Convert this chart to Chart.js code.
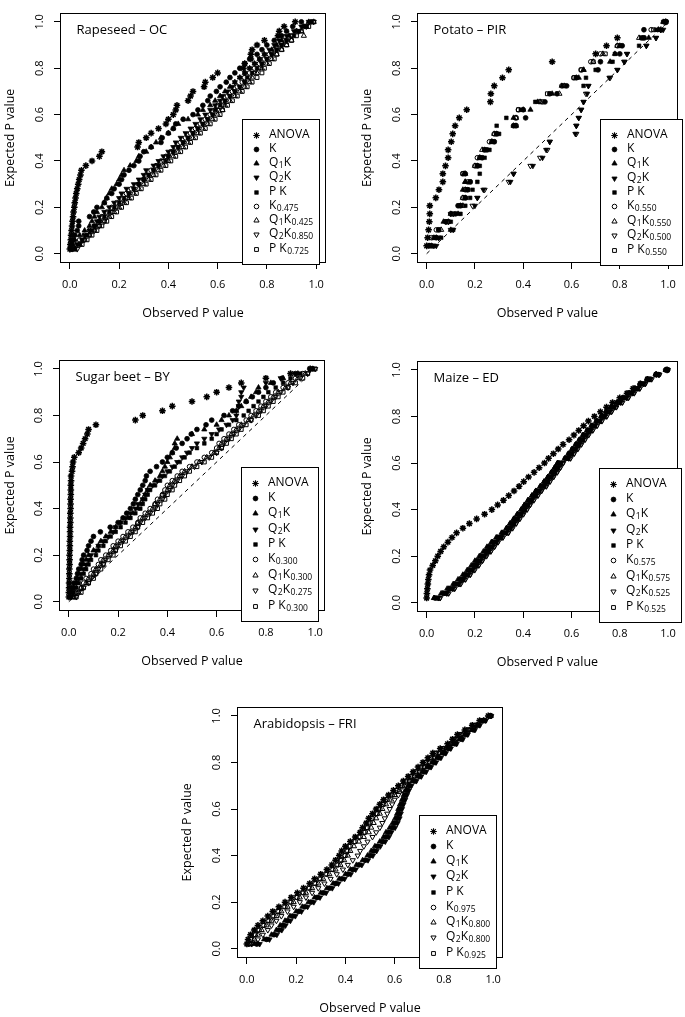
<!DOCTYPE html>
<html>
<head>
<meta charset="utf-8">
<script src="https://cdn.jsdelivr.net/npm/chart.js"></script>
<style>
  body { margin: 0; background: #fff; width: 685px; height: 1017px; overflow: hidden; position: relative; }
  .panel { position: absolute; }
</style>
</head>
<body>
<div class="panel" style="left:0;top:0;width:340px;height:330px"><canvas id="rapeseed"></canvas></div>
<div class="panel" style="left:357px;top:0;width:328px;height:330px"><canvas id="potato"></canvas></div>
<div class="panel" style="left:0;top:347px;width:340px;height:331px"><canvas id="beet"></canvas></div>
<div class="panel" style="left:357px;top:348px;width:328px;height:331px"><canvas id="maize"></canvas></div>
<div class="panel" style="left:177px;top:694px;width:340px;height:323px"><canvas id="arabidopsis"></canvas></div>
<script>
const FONT = '"Open Sans", sans-serif';
const tickValues = [0, 0.2, 0.4, 0.6, 0.8, 1.0];

// expected P values (uniform quantiles)
const expected50 = [0.02,0.04,0.06,0.08,0.10,0.12,0.14,0.16,0.18,0.20,
  0.22,0.24,0.26,0.28,0.30,0.32,0.34,0.36,0.38,0.40,
  0.42,0.44,0.46,0.48,0.50,0.52,0.54,0.56,0.58,0.60,
  0.62,0.64,0.66,0.68,0.70,0.72,0.74,0.76,0.78,0.80,
  0.82,0.84,0.86,0.88,0.90,0.92,0.94,0.96,0.98,1.00];
const expected29 = [0.034,0.069,0.103,0.138,0.172,0.207,0.241,0.276,0.310,0.345,
  0.379,0.414,0.448,0.483,0.517,0.552,0.586,0.621,0.655,0.690,
  0.724,0.759,0.793,0.828,0.862,0.897,0.931,0.966,1.000];

// ---- Rapeseed - OC (observed P values)
const rapeAnova = [0.000,0.002,0.004,0.005,0.007,0.009,0.011,0.013,0.015,0.018,
  0.020,0.023,0.026,0.030,0.034,0.038,0.043,0.047,0.065,0.090,
  0.12,0.13,0.275,0.28,0.31,0.33,0.36,0.39,0.40,0.42,
  0.43,0.435,0.48,0.49,0.50,0.545,0.55,0.58,0.60,0.705,
  0.71,0.735,0.735,0.74,0.76,0.79,0.845,0.85,0.87,0.915];
const rapeK = [0.003,0.008,0.015,0.02,0.03,0.036,0.036,0.08,0.097,0.11,
  0.14,0.15,0.17,0.18,0.20,0.21,0.22,0.24,0.26,0.28,
  0.285,0.30,0.33,0.37,0.375,0.40,0.42,0.43,0.46,0.50,
  0.52,0.54,0.56,0.57,0.595,0.61,0.635,0.65,0.67,0.69,
  0.71,0.73,0.76,0.78,0.80,0.83,0.86,0.88,0.905,0.94];
const rapeQ1K = [0.005,0.012,0.02,0.04,0.06,0.08,0.09,0.10,0.11,0.13,
  0.14,0.15,0.16,0.17,0.19,0.20,0.21,0.22,0.245,0.27,
  0.28,0.31,0.33,0.35,0.37,0.40,0.42,0.44,0.48,0.52,
  0.54,0.57,0.59,0.61,0.63,0.65,0.67,0.69,0.71,0.73,
  0.75,0.77,0.79,0.82,0.84,0.86,0.89,0.92,0.95,0.97];
const rapeQ2K = [0.01,0.03,0.05,0.06,0.08,0.10,0.11,0.12,0.14,0.16,
  0.18,0.20,0.21,0.23,0.26,0.28,0.30,0.31,0.34,0.36,
  0.38,0.40,0.42,0.43,0.45,0.47,0.49,0.51,0.53,0.55,
  0.57,0.59,0.61,0.62,0.64,0.66,0.67,0.69,0.71,0.73,
  0.75,0.77,0.79,0.81,0.83,0.85,0.88,0.91,0.94,0.97];
const rapePK = [0.02,0.04,0.05,0.07,0.09,0.10,0.12,0.14,0.16,0.18,
  0.20,0.22,0.24,0.26,0.28,0.30,0.32,0.34,0.36,0.39,
  0.40,0.42,0.44,0.46,0.48,0.50,0.52,0.54,0.56,0.58,
  0.59,0.61,0.63,0.65,0.67,0.69,0.71,0.72,0.74,0.76,
  0.78,0.80,0.82,0.84,0.86,0.88,0.91,0.93,0.96,0.98];
const rapeKs = [0.01,0.02,0.04,0.06,0.08,0.10,0.12,0.13,0.15,0.17,
  0.19,0.21,0.23,0.25,0.28,0.30,0.31,0.33,0.35,0.37,
  0.39,0.41,0.43,0.45,0.47,0.49,0.51,0.53,0.55,0.57,
  0.59,0.60,0.62,0.64,0.66,0.68,0.70,0.71,0.73,0.75,
  0.77,0.79,0.81,0.83,0.85,0.87,0.90,0.92,0.95,0.98];
const rapeQ1Ks = [0.02,0.04,0.06,0.08,0.10,0.12,0.14,0.16,0.18,0.20,
  0.22,0.24,0.26,0.28,0.30,0.32,0.34,0.36,0.38,0.40,
  0.42,0.44,0.46,0.48,0.50,0.52,0.54,0.56,0.58,0.60,
  0.62,0.63,0.65,0.67,0.69,0.71,0.73,0.74,0.76,0.78,
  0.80,0.82,0.84,0.86,0.88,0.90,0.95,0.94,0.96,0.99];
const rapeQ2Ks = [0.03,0.04,0.06,0.08,0.10,0.12,0.14,0.15,0.17,0.19,
  0.21,0.23,0.24,0.26,0.28,0.30,0.32,0.34,0.36,0.38,
  0.40,0.42,0.44,0.46,0.48,0.50,0.52,0.54,0.56,0.58,
  0.60,0.62,0.63,0.65,0.67,0.69,0.71,0.73,0.75,0.77,
  0.78,0.80,0.82,0.84,0.86,0.88,0.90,0.93,0.96,0.99];
const rapePKs = [0.02,0.05,0.07,0.09,0.11,0.13,0.15,0.17,0.19,0.21,
  0.23,0.25,0.27,0.29,0.31,0.33,0.35,0.37,0.39,0.41,
  0.43,0.45,0.47,0.49,0.51,0.53,0.55,0.57,0.59,0.61,
  0.62,0.64,0.66,0.68,0.70,0.72,0.74,0.76,0.78,0.79,
  0.81,0.83,0.84,0.86,0.88,0.90,0.92,0.94,0.97,0.99];

// ---- Potato - PIR
const potAnova = [0.000,0.004,0.008,0.011,0.013,0.013,0.038,0.051,0.067,0.067,
  0.078,0.089,0.089,0.102,0.108,0.118,0.135,0.166,0.264,0.266,
  0.280,0.314,0.340,0.520,0.700,0.745,0.790,0.970,0.990];
const potK = [0.02,0.04,0.05,0.08,0.12,0.13,0.16,0.17,0.18,0.16,
  0.21,0.23,0.25,0.28,0.29,0.36,0.41,0.40,0.49,0.54,
  0.58,0.62,0.71,0.72,0.80,0.81,0.90,0.90,0.99];
const potQ1K = [0.01,0.03,0.10,0.07,0.13,0.14,0.16,0.15,0.16,0.155,
  0.21,0.22,0.24,0.27,0.29,0.37,0.36,0.43,0.46,0.52,
  0.56,0.63,0.65,0.76,0.78,0.80,0.92,0.96,0.98];
const potQ2K = [0.04,0.05,0.11,0.08,0.10,0.20,0.21,0.235,0.347,0.36,
  0.44,0.48,0.495,0.51,0.616,0.62,0.63,0.64,0.65,0.665,
  0.67,0.757,0.79,0.818,0.83,0.91,0.95,0.98,0.99];
const potPK = [0.03,0.06,0.11,0.10,0.14,0.16,0.18,0.19,0.21,0.22,
  0.22,0.24,0.26,0.28,0.30,0.29,0.33,0.39,0.45,0.51,
  0.65,0.66,0.70,0.77,0.78,0.88,0.89,0.95,0.98];
const potKs = [0.01,0.02,0.04,0.09,0.10,0.14,0.15,0.16,0.17,0.15,
  0.20,0.21,0.24,0.26,0.28,0.37,0.37,0.38,0.48,0.51,
  0.56,0.61,0.64,0.68,0.72,0.79,0.89,0.93,0.99];
const potQ1Ks = [0.02,0.04,0.06,0.09,0.10,0.15,0.15,0.16,0.16,0.16,
  0.20,0.22,0.23,0.27,0.28,0.36,0.37,0.40,0.47,0.55,
  0.57,0.62,0.65,0.69,0.73,0.79,0.88,0.96,0.99];
const potQ2Ks = [0.03,0.05,0.10,0.09,0.11,0.19,0.21,0.24,0.34,0.36,
  0.43,0.47,0.50,0.51,0.62,0.62,0.63,0.64,0.65,0.66,
  0.67,0.76,0.79,0.82,0.83,0.91,0.95,0.97,0.99];
const potPKs = [0.01,0.03,0.05,0.08,0.11,0.14,0.16,0.17,0.18,0.15,
  0.21,0.22,0.24,0.27,0.29,0.37,0.37,0.38,0.47,0.50,
  0.57,0.61,0.64,0.69,0.74,0.80,0.90,0.94,0.99];

// ---- Sugar beet - BY
const beetAnova = [0.000,0.000,0.001,0.001,0.002,0.002,0.002,0.003,0.003,0.003,
  0.004,0.004,0.004,0.005,0.005,0.005,0.006,0.006,0.006,0.007,
  0.007,0.007,0.008,0.008,0.008,0.009,0.009,0.013,0.015,0.017,
  0.022,0.040,0.050,0.058,0.066,0.075,0.080,0.110,0.270,0.300,
  0.380,0.420,0.500,0.560,0.600,0.650,0.700,0.800,0.900,0.980];
const beetK = [0.005,0.01,0.015,0.02,0.03,0.035,0.04,0.05,0.054,0.06,
  0.074,0.08,0.09,0.10,0.128,0.168,0.20,0.22,0.235,0.25,
  0.262,0.27,0.28,0.29,0.30,0.31,0.315,0.33,0.356,0.38,
  0.40,0.42,0.436,0.46,0.48,0.497,0.52,0.557,0.58,0.63,
  0.665,0.69,0.72,0.745,0.77,0.80,0.83,0.866,0.92,0.98];
const beetQ1K = [0.005,0.01,0.02,0.03,0.035,0.04,0.05,0.06,0.07,0.08,
  0.10,0.12,0.13,0.15,0.17,0.19,0.21,0.24,0.26,0.28,
  0.29,0.30,0.31,0.32,0.33,0.35,0.37,0.38,0.39,0.40,
  0.41,0.42,0.43,0.43,0.44,0.50,0.55,0.60,0.62,0.65,
  0.68,0.70,0.72,0.74,0.76,0.77,0.82,0.87,0.93,0.99];
const beetQ2K = [0.01,0.015,0.02,0.03,0.04,0.05,0.06,0.07,0.08,0.09,
  0.11,0.12,0.14,0.16,0.18,0.19,0.21,0.23,0.25,0.27,
  0.28,0.30,0.31,0.32,0.34,0.36,0.38,0.40,0.42,0.44,
  0.46,0.48,0.50,0.52,0.55,0.58,0.61,0.64,0.665,0.68,
  0.68,0.69,0.69,0.70,0.70,0.71,0.80,0.86,0.92,0.98];
const beetPK = [0.01,0.02,0.03,0.04,0.05,0.06,0.07,0.08,0.09,0.11,
  0.12,0.14,0.15,0.17,0.19,0.21,0.23,0.25,0.27,0.29,
  0.30,0.31,0.32,0.33,0.35,0.37,0.39,0.41,0.43,0.45,
  0.47,0.49,0.52,0.55,0.58,0.60,0.62,0.65,0.68,0.71,
  0.73,0.75,0.77,0.79,0.81,0.84,0.87,0.90,0.94,0.99];
const beetKs = [0.02,0.03,0.05,0.06,0.07,0.09,0.10,0.12,0.13,0.15,
  0.17,0.18,0.20,0.22,0.24,0.26,0.28,0.29,0.31,0.33,
  0.35,0.36,0.38,0.39,0.40,0.42,0.44,0.46,0.49,0.52,
  0.55,0.58,0.60,0.61,0.63,0.65,0.67,0.69,0.72,0.74,
  0.76,0.78,0.80,0.82,0.84,0.87,0.89,0.92,0.95,0.99];
const beetQ1Ks = [0.02,0.04,0.05,0.07,0.08,0.10,0.11,0.13,0.14,0.16,
  0.18,0.19,0.21,0.23,0.25,0.27,0.28,0.30,0.32,0.34,
  0.35,0.37,0.38,0.40,0.41,0.43,0.45,0.47,0.50,0.53,
  0.56,0.59,0.61,0.62,0.64,0.66,0.68,0.70,0.73,0.75,
  0.77,0.79,0.81,0.83,0.85,0.88,0.90,0.93,0.96,0.99];
const beetQ2Ks = [0.03,0.04,0.06,0.08,0.09,0.11,0.12,0.14,0.15,0.17,
  0.19,0.20,0.22,0.24,0.26,0.28,0.29,0.31,0.33,0.35,
  0.36,0.38,0.39,0.41,0.42,0.44,0.46,0.48,0.51,0.54,
  0.57,0.60,0.62,0.63,0.65,0.67,0.69,0.71,0.74,0.76,
  0.78,0.80,0.82,0.84,0.86,0.89,0.91,0.94,0.97,1.00];
const beetPKs = [0.03,0.05,0.06,0.08,0.10,0.11,0.13,0.14,0.16,0.18,
  0.19,0.21,0.23,0.25,0.27,0.28,0.30,0.32,0.34,0.36,
  0.37,0.39,0.40,0.42,0.43,0.45,0.47,0.49,0.52,0.55,
  0.58,0.60,0.62,0.64,0.66,0.68,0.70,0.72,0.74,0.77,
  0.79,0.81,0.83,0.85,0.87,0.89,0.92,0.95,0.97,1.00];

// ---- Maize - ED
const maizeAnova = [0.000,0.001,0.003,0.005,0.007,0.010,0.014,0.025,0.036,0.046,
  0.058,0.071,0.088,0.105,0.124,0.150,0.177,0.207,0.240,0.270,
  0.294,0.318,0.340,0.362,0.383,0.402,0.422,0.445,0.466,0.488,
  0.505,0.525,0.545,0.565,0.590,0.610,0.630,0.650,0.670,0.695,
  0.720,0.745,0.770,0.800,0.830,0.855,0.885,0.915,0.952,0.996];
const maizeK = [0.035,0.07,0.095,0.12,0.14,0.16,0.178,0.195,0.21,0.228,
  0.245,0.26,0.276,0.296,0.318,0.336,0.35,0.366,0.38,0.396,
  0.41,0.424,0.44,0.456,0.475,0.49,0.506,0.52,0.534,0.546,
  0.575,0.59,0.605,0.62,0.635,0.65,0.667,0.685,0.705,0.725,
  0.745,0.765,0.79,0.815,0.84,0.863,0.887,0.915,0.95,0.99];
const maizeQ1K = [0.03,0.06,0.085,0.11,0.13,0.15,0.168,0.185,0.20,0.218,
  0.235,0.25,0.268,0.288,0.31,0.33,0.345,0.36,0.375,0.392,
  0.405,0.42,0.436,0.452,0.47,0.486,0.502,0.517,0.53,0.543,
  0.572,0.587,0.602,0.617,0.632,0.647,0.664,0.682,0.702,0.722,
  0.742,0.762,0.787,0.812,0.837,0.86,0.884,0.913,0.948,0.99];
const maizeQ2K = [0.048,0.083,0.108,0.133,0.153,0.173,0.19,0.208,0.223,0.24,
  0.258,0.273,0.29,0.31,0.33,0.348,0.363,0.378,0.393,0.408,
  0.421,0.436,0.453,0.468,0.488,0.503,0.518,0.533,0.546,0.558,
  0.588,0.603,0.618,0.633,0.648,0.663,0.68,0.698,0.718,0.738,
  0.758,0.778,0.803,0.828,0.852,0.875,0.898,0.925,0.96,0.998];
const maizePK = [0.043,0.078,0.103,0.128,0.148,0.168,0.186,0.203,0.218,0.235,
  0.253,0.268,0.284,0.303,0.326,0.343,0.358,0.373,0.388,0.403,
  0.416,0.431,0.448,0.463,0.483,0.498,0.513,0.528,0.541,0.553,
  0.583,0.598,0.613,0.628,0.643,0.658,0.675,0.693,0.713,0.733,
  0.753,0.773,0.798,0.823,0.848,0.871,0.895,0.922,0.957,0.996];
const maizeKs = [0.052,0.087,0.112,0.137,0.157,0.177,0.195,0.212,0.227,0.244,
  0.262,0.277,0.292,0.312,0.335,0.352,0.367,0.382,0.397,0.412,
  0.425,0.44,0.457,0.472,0.492,0.507,0.522,0.537,0.55,0.562,
  0.592,0.607,0.622,0.637,0.652,0.667,0.684,0.702,0.722,0.742,
  0.762,0.782,0.807,0.832,0.856,0.879,0.902,0.928,0.962,0.998];
const maizeQ1Ks = [0.032,0.067,0.092,0.117,0.137,0.157,0.175,0.192,0.207,0.224,
  0.242,0.257,0.272,0.292,0.315,0.332,0.347,0.362,0.377,0.392,
  0.405,0.42,0.437,0.452,0.472,0.487,0.502,0.517,0.53,0.542,
  0.576,0.591,0.606,0.621,0.636,0.651,0.668,0.686,0.706,0.726,
  0.746,0.766,0.791,0.816,0.841,0.864,0.888,0.916,0.951,0.992];
const maizeQ2Ks = [0.056,0.091,0.116,0.141,0.161,0.181,0.199,0.216,0.231,0.248,
  0.266,0.281,0.296,0.316,0.339,0.356,0.371,0.386,0.401,0.416,
  0.429,0.444,0.461,0.476,0.496,0.511,0.526,0.541,0.554,0.566,
  0.596,0.611,0.626,0.641,0.656,0.671,0.688,0.706,0.726,0.746,
  0.766,0.786,0.811,0.836,0.86,0.883,0.906,0.932,0.964,0.999];
const maizePKs = [0.046,0.081,0.106,0.131,0.151,0.171,0.189,0.206,0.221,0.238,
  0.256,0.271,0.286,0.306,0.329,0.346,0.361,0.376,0.391,0.406,
  0.419,0.434,0.451,0.466,0.486,0.501,0.516,0.531,0.544,0.556,
  0.586,0.601,0.616,0.631,0.646,0.661,0.678,0.696,0.716,0.736,
  0.756,0.776,0.801,0.826,0.851,0.874,0.898,0.925,0.958,0.997];

// ---- Arabidopsis - FRI
const araAnova = [0.00,0.005,0.015,0.03,0.045,0.065,0.085,0.105,0.13,0.155,
  0.18,0.205,0.23,0.255,0.275,0.30,0.325,0.345,0.36,0.375,
  0.385,0.40,0.42,0.44,0.46,0.47,0.485,0.495,0.51,0.525,
  0.54,0.555,0.575,0.595,0.615,0.635,0.655,0.675,0.695,0.715,
  0.735,0.755,0.785,0.815,0.835,0.855,0.885,0.915,0.945,0.98];
const araK = [0.04,0.08,0.11,0.13,0.145,0.165,0.185,0.21,0.235,0.26,
  0.285,0.31,0.335,0.36,0.385,0.41,0.43,0.455,0.48,0.50,
  0.515,0.53,0.55,0.565,0.575,0.59,0.60,0.61,0.615,0.62,
  0.628,0.635,0.642,0.65,0.66,0.68,0.70,0.72,0.74,0.76,
  0.78,0.80,0.82,0.845,0.87,0.89,0.92,0.94,0.965,0.99];
const araQ1K = [0.03,0.07,0.10,0.12,0.135,0.155,0.175,0.20,0.225,0.25,
  0.275,0.30,0.325,0.35,0.375,0.40,0.42,0.445,0.47,0.49,
  0.505,0.52,0.54,0.555,0.565,0.58,0.592,0.602,0.61,0.615,
  0.622,0.63,0.637,0.645,0.655,0.673,0.693,0.713,0.733,0.753,
  0.773,0.793,0.813,0.838,0.863,0.884,0.913,0.935,0.96,0.988];
const araQ2K = [0.052,0.092,0.122,0.142,0.157,0.177,0.197,0.222,0.247,0.272,
  0.297,0.322,0.347,0.372,0.397,0.422,0.442,0.467,0.492,0.512,
  0.527,0.542,0.562,0.577,0.587,0.602,0.612,0.62,0.625,0.63,
  0.636,0.643,0.65,0.658,0.668,0.688,0.708,0.728,0.748,0.768,
  0.788,0.808,0.828,0.852,0.877,0.897,0.926,0.946,0.97,0.992];
const araPK = [0.045,0.085,0.115,0.135,0.15,0.17,0.19,0.215,0.24,0.265,
  0.29,0.315,0.34,0.365,0.39,0.415,0.435,0.46,0.485,0.505,
  0.52,0.535,0.555,0.57,0.58,0.595,0.605,0.615,0.62,0.625,
  0.632,0.639,0.646,0.654,0.664,0.684,0.704,0.724,0.744,0.764,
  0.784,0.804,0.824,0.849,0.874,0.894,0.923,0.943,0.967,0.991];
const araKs = [0.01,0.02,0.035,0.05,0.07,0.09,0.11,0.13,0.155,0.18,
  0.205,0.23,0.255,0.28,0.30,0.325,0.35,0.37,0.385,0.40,
  0.41,0.42,0.44,0.46,0.48,0.49,0.50,0.51,0.53,0.54,
  0.555,0.57,0.59,0.61,0.63,0.65,0.67,0.69,0.71,0.73,
  0.75,0.77,0.80,0.83,0.85,0.87,0.90,0.93,0.96,0.99];
const araQ1Ks = [0.015,0.03,0.045,0.06,0.08,0.10,0.12,0.14,0.165,0.19,
  0.215,0.24,0.265,0.29,0.31,0.335,0.36,0.38,0.395,0.41,
  0.42,0.435,0.455,0.475,0.495,0.505,0.515,0.525,0.54,0.55,
  0.565,0.58,0.60,0.62,0.64,0.66,0.68,0.70,0.72,0.74,
  0.76,0.78,0.81,0.835,0.855,0.875,0.905,0.935,0.962,0.99];
const araQ2Ks = [0.02,0.045,0.065,0.085,0.10,0.12,0.14,0.165,0.19,0.215,
  0.24,0.265,0.29,0.315,0.34,0.365,0.39,0.41,0.43,0.45,
  0.46,0.475,0.49,0.51,0.525,0.54,0.55,0.56,0.57,0.58,
  0.59,0.60,0.615,0.63,0.645,0.66,0.68,0.70,0.72,0.74,
  0.76,0.78,0.805,0.83,0.855,0.875,0.905,0.93,0.958,0.988];
const araPKs = [0.005,0.015,0.03,0.045,0.065,0.085,0.105,0.125,0.15,0.175,
  0.20,0.225,0.25,0.275,0.295,0.32,0.345,0.365,0.38,0.395,
  0.405,0.415,0.435,0.455,0.475,0.485,0.495,0.505,0.525,0.535,
  0.55,0.565,0.585,0.605,0.625,0.645,0.665,0.685,0.705,0.725,
  0.745,0.765,0.795,0.825,0.845,0.865,0.895,0.925,0.955,0.988];

// marker per method: ANOVA, K, Q1K, Q2K, PK, then the four optimised versions
const markers = [
  { style: 'star', rot: 0, fill: true, r: 3.3, bw: 1.5 },
  { style: 'circle', rot: 0, fill: true, r: 2.4, bw: 0.8 },
  { style: 'triangle', rot: 0, fill: true, r: 3.0, bw: 0.8 },
  { style: 'triangle', rot: 180, fill: true, r: 3.0, bw: 0.8 },
  { style: 'rect', rot: 0, fill: true, r: 2.6, bw: 0.6 },
  { style: 'circle', rot: 0, fill: false, r: 2.3, bw: 1 },
  { style: 'triangle', rot: 0, fill: false, r: 3.0, bw: 1 },
  { style: 'triangle', rot: 180, fill: false, r: 3.0, bw: 1 },
  { style: 'rect', rot: 0, fill: false, r: 2.7, bw: 1 }
];

function legendLabels(subs) {
  return [
    [['ANOVA', false]],
    [['K', false]],
    [['Q', false], ['1', true], ['K', false]],
    [['Q', false], ['2', true], ['K', false]],
    [['P K', false]],
    [['K', false], [subs[0], true]],
    [['Q', false], ['1', true], ['K', false], [subs[1], true]],
    [['Q', false], ['2', true], ['K', false], [subs[2], true]],
    [['P K', false], [subs[3], true]]
  ];
}

const qqPlugin = {
  id: 'qq',
  afterDatasetsDraw(chart, args, opts) {
    const ctx = chart.ctx;
    const a = chart.chartArea;
    ctx.save();
    ctx.strokeStyle = '#000';
    ctx.lineWidth = 1;
    ctx.strokeRect(Math.round(a.left) + 0.5, Math.round(a.top) + 0.5, Math.round(a.width) - 1, Math.round(a.height) - 1);

    ctx.fillStyle = '#000';
    ctx.font = '13px ' + FONT;
    ctx.textBaseline = 'middle';
    ctx.textAlign = 'left';
    ctx.fillText(opts.title, a.left + 16.5, a.top + 18);

    const b = opts.box;
    const lx = Math.round(a.left + b.x), ly = Math.round(a.top + b.y);
    ctx.fillStyle = '#fff';
    ctx.fillRect(lx, ly, b.w, b.h);
    ctx.lineWidth = 1;
    ctx.strokeRect(lx + 0.5, ly + 0.5, b.w, b.h);
    const step = (b.h - 31) / 8;
    opts.labels.forEach((parts, i) => {
      const y = Math.round(ly + 15.5 + i * step);
      const m = markers[i];
      const lw = Math.min(m.bw, 1.1);
      ctx.fillStyle = m.fill ? '#000' : 'rgba(0,0,0,0)';
      ctx.strokeStyle = '#000';
      ctx.lineWidth = lw;
      Chart.helpers.drawPoint(ctx, { pointStyle: m.style, rotation: m.rot, radius: m.r, borderWidth: lw }, lx + 14.5, y + 0.5);
      let x = lx + 27;
      ctx.fillStyle = '#000';
      parts.forEach(([t, sub]) => {
        ctx.font = (sub ? '8.5px ' : '12px ') + FONT;
        ctx.fillText(t, x, sub ? y + 3 : y);
        x += ctx.measureText(t).width + (sub ? 0 : 0.5);
      });
    });
    ctx.restore();
  }
};

function makeChart(id, p) {
  const datasets = p.series.map((xs, i) => {
    const m = markers[i];
    return {
      label: 'method' + i,
      data: xs.map((x, j) => ({ x: x, y: p.expected[j] })),
      pointStyle: m.style,
      pointRotation: m.rot,
      pointRadius: m.r,
      borderWidth: m.bw,
      borderColor: '#000',
      backgroundColor: m.fill ? '#000' : 'rgba(0,0,0,0)',
      showLine: false
    };
  });
  if (p.diagonal) {
    datasets.push({
      type: 'line',
      label: 'diagonal',
      data: [{ x: 0, y: 0 }, { x: 1, y: 1 }],
      borderColor: '#000',
      borderWidth: 1,
      borderDash: [4, 4],
      pointRadius: 0,
      order: 10
    });
  }
  const setTicks = s => { s.ticks = tickValues.map(v => ({ value: v })); };
  new Chart(document.getElementById(id), {
    type: 'scatter',
    data: { datasets: datasets },
    plugins: [qqPlugin],
    options: {
      responsive: true,
      maintainAspectRatio: false,
      animation: false,
      layout: { padding: { top: 1, right: p.padRight, left: 0, bottom: 0 } },
      plugins: {
        legend: { display: false },
        tooltip: { enabled: false },
        qq: { title: p.title, box: p.box, labels: legendLabels(p.subs) }
      },
      scales: {
        x: {
          type: 'linear', min: -0.04, max: 1.04,
          afterBuildTicks: setTicks,
          afterFit: s => { s.height = p.xAxisH; },
          grid: { drawOnChartArea: false, drawTicks: true, tickLength: 6, color: '#000' },
          border: { display: false },
          ticks: { color: '#000', font: { family: FONT, size: 11 }, padding: 9, maxRotation: 0,
                   callback: v => v.toFixed(1) },
          title: { display: true, text: 'Observed P value', color: '#000',
                   font: { family: FONT, size: 12.5 }, padding: { top: 0, bottom: p.titlePad } }
        },
        y: {
          type: 'linear', min: -0.04, max: 1.04,
          afterBuildTicks: setTicks,
          afterFit: s => { s.width = p.yAxisW; },
          grid: { drawOnChartArea: false, drawTicks: true, tickLength: 6, color: '#000' },
          border: { display: false },
          ticks: { color: '#000', font: { family: FONT, size: 11 }, padding: 6,
                   minRotation: 90, maxRotation: 90, crossAlign: 'center',
                   callback: v => v.toFixed(1) },
          title: { display: true, text: 'Expected P value', color: '#000',
                   font: { family: FONT, size: 12.5 }, padding: { top: 2.5, bottom: 0 } }
        }
      }
    }
  });
}

makeChart('rapeseed', {
  title: 'Rapeseed \u2013 OC', expected: expected50,
  series: [rapeAnova, rapeK, rapeQ1K, rapeQ2K, rapePK, rapeKs, rapeQ1Ks, rapeQ2Ks, rapePKs],
  subs: ['0.475', '0.425', '0.850', '0.725'],
  box: { x: 182, y: 106, w: 77, h: 145 },
  padRight: 14, yAxisW: 60, xAxisH: 67, titlePad: 9, diagonal: false
});
makeChart('potato', {
  title: 'Potato \u2013 PIR', expected: expected29,
  series: [potAnova, potK, potQ1K, potQ2K, potPK, potKs, potQ1Ks, potQ2Ks, potPKs],
  subs: ['0.550', '0.550', '0.500', '0.550'],
  box: { x: 183, y: 106, w: 82, h: 146 },
  padRight: 2, yAxisW: 60, xAxisH: 67, titlePad: 9, diagonal: true
});
makeChart('beet', {
  title: 'Sugar beet \u2013 BY', expected: expected50,
  series: [beetAnova, beetK, beetQ1K, beetQ2K, beetPK, beetKs, beetQ1Ks, beetQ2Ks, beetPKs],
  subs: ['0.300', '0.300', '0.275', '0.300'],
  box: { x: 182, y: 107, w: 77, h: 154 },
  padRight: 15, yAxisW: 59, xAxisH: 67, titlePad: 9, diagonal: true
});
makeChart('maize', {
  title: 'Maize \u2013 ED', expected: expected50,
  series: [maizeAnova, maizeK, maizeQ1K, maizeQ2K, maizePK, maizeKs, maizeQ1Ks, maizeQ2Ks, maizePKs],
  subs: ['0.575', '0.575', '0.525', '0.525'],
  box: { x: 182, y: 107, w: 82, h: 154 },
  padRight: 2, yAxisW: 60, xAxisH: 67, titlePad: 9, diagonal: false
});
makeChart('arabidopsis', {
  title: 'Arabidopsis \u2013 FRI', expected: expected50,
  series: [araAnova, araK, araQ1K, araQ2K, araPK, araKs, araQ1Ks, araQ2Ks, araPKs],
  subs: ['0.975', '0.800', '0.800', '0.925'],
  box: { x: 182, y: 108, w: 77, h: 153 },
  padRight: 14, yAxisW: 60, xAxisH: 59, titlePad: 1, diagonal: false
});
</script>
</body>
</html>
